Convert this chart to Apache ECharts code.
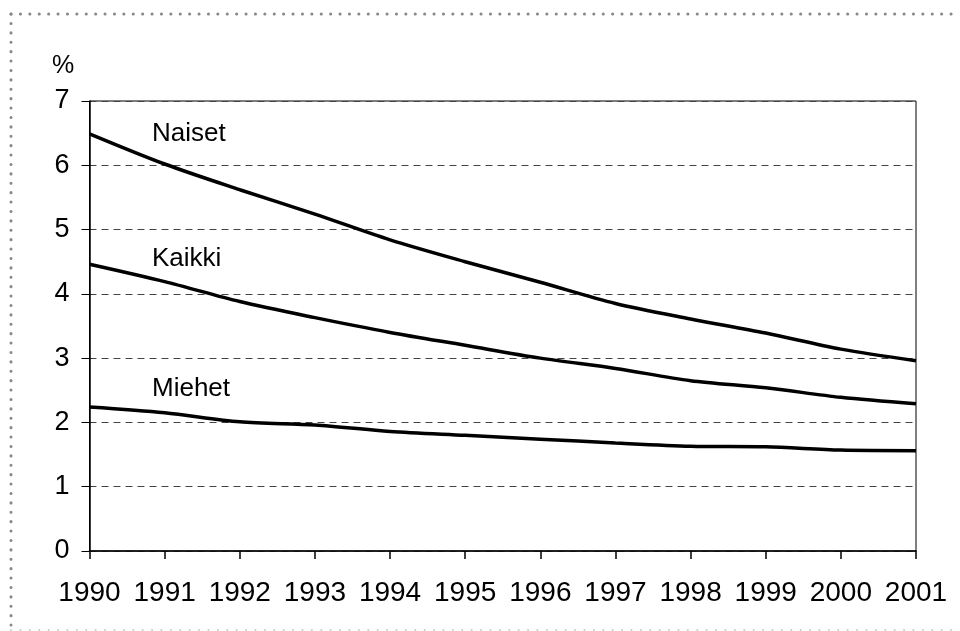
<!DOCTYPE html>
<html>
<head>
<meta charset="utf-8">
<script src="https://cdn.jsdelivr.net/npm/echarts@6/dist/echarts.min.js"></script>
<style>
  html, body { margin: 0; padding: 0; background: #fff; }
  #chart { width: 960px; height: 631px; }
</style>
</head>
<body>
<div id="chart"></div>
<script>
// vuodet ja sarjat
const years = ['1990', '1991', '1992', '1993', '1994', '1995', '1996', '1997', '1998', '1999', '2000', '2001'];
const naiset = [6.49, 6.02, 5.62, 5.24, 4.84, 4.50, 4.18, 3.85, 3.61, 3.39, 3.14, 2.96];
const kaikki = [4.46, 4.19, 3.88, 3.63, 3.40, 3.20, 3.00, 2.84, 2.65, 2.54, 2.39, 2.29];
const miehet = [2.24, 2.15, 2.01, 1.96, 1.86, 1.80, 1.74, 1.68, 1.63, 1.62, 1.57, 1.56];
const yTicks = [0, 1, 2, 3, 4, 5, 6, 7];

const font = 'Liberation Sans, Arial, sans-serif';
const chart = echarts.init(document.getElementById('chart'));

function line (name, data) {
  return {
    name: name,
    type: 'line',
    data: data,
    smooth: 0.3,
    symbol: 'none',
    lineStyle: { color: '#000', width: 3.5 },
    z: 5
  };
}

chart.setOption({
  animation: false,
  grid: {
    left: 89.5, right: 44, top: 101, bottom: 80,
    show: true, borderColor: '#000', borderWidth: 1
  },
  xAxis: {
    type: 'category',
    data: years,
    boundaryGap: false,
    axisLine: { lineStyle: { color: '#000', width: 1.5 } },
    axisTick: { show: true, interval: 0, length: 8, lineStyle: { color: '#000', width: 1.5 } },
    axisLabel: { color: '#000', fontSize: 28, fontFamily: font, margin: 28, interval: 0 },
    splitLine: { show: false }
  },
  yAxis: {
    type: 'value',
    min: yTicks[0],
    max: yTicks[yTicks.length - 1],
    interval: 1,
    axisLine: { show: true, lineStyle: { color: '#000', width: 1.5 } },
    axisTick: { show: true, length: 8, lineStyle: { color: '#000', width: 1 } },
    axisLabel: { color: '#000', fontSize: 27, fontFamily: font, margin: 20 },
    splitLine: { show: true, lineStyle: { color: '#444', width: 1, type: [7, 5] } }
  },
  series: [line('Naiset', naiset), line('Kaikki', kaikki), line('Miehet', miehet)],
  graphic: [
    // pisteviiva kehys
    { type: 'line', shape: { x1: 11, y1: 14, x2: 960, y2: 14 }, style: { stroke: '#888', lineWidth: 3, lineDash: [0.1, 9.3], lineCap: 'round' } },
    { type: 'line', shape: { x1: 11, y1: 14, x2: 11, y2: 631 }, style: { stroke: '#888', lineWidth: 3, lineDash: [0.1, 9.3], lineCap: 'round' } },
    { type: 'line', shape: { x1: 11, y1: 630, x2: 960, y2: 630 }, style: { stroke: '#ccc', lineWidth: 2, lineDash: [0.1, 9.3], lineCap: 'round' } },
    { type: 'text', left: 52, top: 54, style: { text: '%', fill: '#000', font: '25px ' + font } },
    { type: 'text', left: 152, top: 121, style: { text: 'Naiset', fill: '#000', font: '26px ' + font } },
    { type: 'text', left: 152, top: 246, style: { text: 'Kaikki', fill: '#000', font: '26px ' + font } },
    { type: 'text', left: 152, top: 376, style: { text: 'Miehet', fill: '#000', font: '26px ' + font } }
  ]
});
</script>
</body>
</html>
